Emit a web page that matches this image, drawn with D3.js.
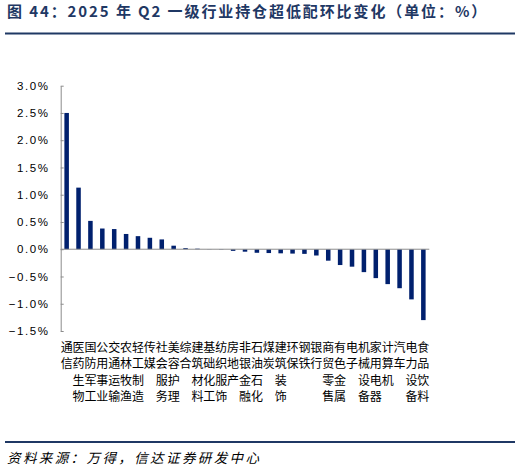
<!DOCTYPE html>
<html>
<head>
<meta charset="utf-8">
<script src="https://cdn.jsdelivr.net/npm/d3@7"></script>
<style>
  body { margin: 0; background: #fff; }
  svg { display: block; }
</style>
</head>
<body>
<div id="chart"></div>
<script>
// industries, sorted as in the source figure
const industries = ["通信", "医药生物", "国防军工", "公用事业", "交通运输", "农林牧渔", "轻工制造", "传媒",
  "社会服务", "美容护理", "综合", "建筑材料", "基础化工", "纺织服饰", "房地产", "非银金融", "石油石化",
  "煤炭", "建筑装饰", "环保", "钢铁", "银行", "商贸零售", "有色金属", "电子", "机械设备", "家用电器",
  "计算机", "汽车", "电力设备", "食品饮料"];
// change of over/under weight, %
const changes = [2.50, 1.13, 0.52, 0.38, 0.37, 0.28, 0.24, 0.21, 0.18, 0.065, 0.02, 0.01, 0.003, -0.005,
  -0.03, -0.045, -0.065, -0.07, -0.075, -0.08, -0.085, -0.115, -0.21, -0.29, -0.32, -0.42, -0.53,
  -0.64, -0.715, -0.92, -1.30];
const yTicks = [-1.5, -1.0, -0.5, 0, 0.5, 1.0, 1.5, 2.0, 2.5, 3.0];

const titleText = "图 44：2025 年 Q2 一级行业持仓超低配环比变化（单位：%）";
const sourceText = "资料来源：万得，信达证券研发中心";

const width = 521;
const height = 472;
const navy = "#1f3864";
const barColor = "#00206e";
const axisGrey = "#8c8c8c";
const cjk = "'Noto Sans CJK SC', 'Noto Sans', sans-serif";

const svg = d3.select("#chart").append("svg")
  .attr("width", width)
  .attr("height", height);

// title + rules
svg.append("text")
  .attr("x", 7)
  .attr("y", 17)
  .attr("fill", navy)
  .style("font-family", cjk)
  .style("font-size", "15px")
  .style("font-weight", "bold")
  .style("letter-spacing", "1.9px")
  .text(titleText);

svg.append("line")
  .attr("x1", 5).attr("x2", 515)
  .attr("y1", 33.5).attr("y2", 33.5)
  .attr("stroke", navy).attr("stroke-width", 2);

svg.append("line")
  .attr("x1", 5).attr("x2", 515)
  .attr("y1", 442).attr("y2", 442)
  .attr("stroke", navy).attr("stroke-width", 2);

svg.append("text")
  .attr("x", 7)
  .attr("y", 463)
  .attr("fill", "#000")
  .style("font-family", cjk)
  .style("font-size", "13.5px")
  .style("font-style", "italic")
  .style("letter-spacing", "2.4px")
  .text(sourceText);

// scales
const x = d3.scaleBand()
  .domain(industries)
  .range([60.7, 429.3])
  .paddingInner(0.62)
  .paddingOuter(0.31);

const y = d3.scaleLinear()
  .domain([-1.5, 3.0])
  .range([331, 85.7]);

// y axis
const yAxis = d3.axisLeft(y)
  .tickValues(yTicks)
  .tickSizeInner(-3)
  .tickSizeOuter(0)
  .tickPadding(11)
  .tickFormat(d => d3.format(".1f")(d).replace("-", "−") + "%");

const gy = svg.append("g")
  .attr("transform", `translate(${x.range()[0]},0)`)
  .call(yAxis);

gy.select(".domain").attr("stroke", axisGrey);
gy.selectAll(".tick line").attr("stroke", axisGrey);
gy.selectAll(".tick text")
  .attr("fill", "#000")
  .style("font-family", "'Liberation Sans', Arial, sans-serif")
  .style("font-size", "11.5px")
  .style("letter-spacing", "1.6px");

// bars
svg.append("g")
  .selectAll("rect")
  .data(industries)
  .join("rect")
  .attr("x", d => x(d))
  .attr("width", x.bandwidth())
  .attr("y", (d, i) => y(Math.max(0, changes[i])))
  .attr("height", (d, i) => Math.abs(y(changes[i]) - y(0)))
  .attr("fill", barColor);

// zero line
svg.append("line")
  .attr("x1", x.range()[0]).attr("x2", x.range()[1])
  .attr("y1", y(0)).attr("y2", y(0))
  .attr("stroke", axisGrey).attr("stroke-width", 1);

// vertical category labels, one character per row
const labels = svg.append("g")
  .style("font-family", cjk)
  .style("font-size", "12px")
  .attr("fill", "#000");

industries.forEach(name => {
  const cx = x(name) + x.bandwidth() / 2;
  Array.from(name).forEach((ch, j) => {
    labels.append("text")
      .attr("x", cx)
      .attr("y", 352 + j * 16.4)
      .attr("text-anchor", "middle")
      .text(ch);
  });
});
</script>
</body>
</html>
